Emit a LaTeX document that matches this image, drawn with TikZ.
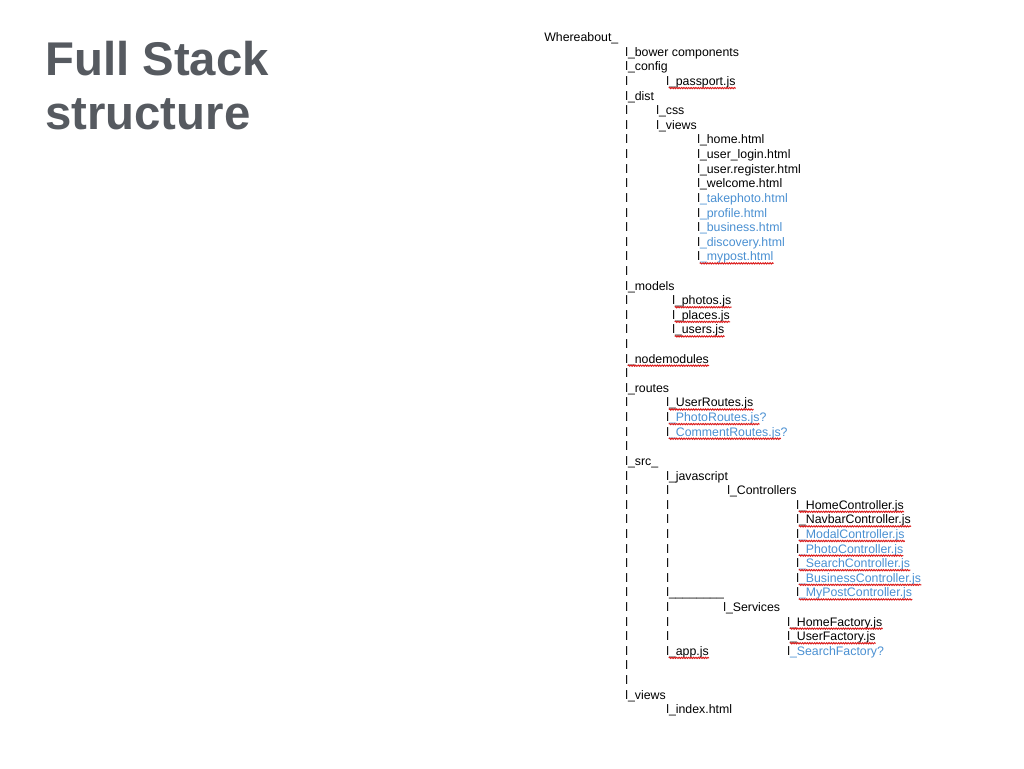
\documentclass[tikz,border=0pt]{standalone}
\usepackage{fontspec}
\setmainfont{Liberation Sans}
\usetikzlibrary{decorations.pathmorphing}
\definecolor{titlegray}{RGB}{86,90,96}
\definecolor{fileblue}{RGB}{74,144,210}
\definecolor{spellred}{RGB}{220,30,30}
\newcommand\rowy[1]{41.7+14.61*#1}
\newcommand\squig[1]{\draw[spell] ([xshift=2.1pt,yshift=-1.9pt]#1.base west) -- ([yshift=-1.9pt]#1.base east);}
\newcommand\squigq[1]{\draw[spell] ([xshift=2.1pt,yshift=-1.9pt]#1.base west) -- ([xshift=-5.2pt,yshift=-1.9pt]#1.base east);}
\newcommand\bl[1]{{\color{fileblue}#1}}
\begin{document}
\begin{tikzpicture}[x=0.75pt,y=-0.75pt,
  entry/.style={anchor=base west, inner sep=0pt, font=\fontsize{9.25}{11}\selectfont, text=black},
  titletext/.style={anchor=base west, inner sep=0pt, font=\fontsize{35.5}{40}\selectfont\bfseries, text=titlegray},
  spell/.style={draw=spellred, line width=0.75pt, decorate, decoration={snake, amplitude=0.45pt, segment length=1.8pt}}]
\useasboundingbox[fill=white] (0,0) rectangle (1024,768);

% title
\node[titletext] (t1) at (45,75) {Full Stack};
\node[titletext] (t2) at (45,129) {structure};

% vertical bars
\foreach \r in {3,5,6,...,16,18,19,20,21,23,25,26,27,28,30,31,...,44}
  \node[entry] (ba\r) at (625,{\rowy{\r}}) {l};
\foreach \r in {31,32,...,37,39,40,41}
  \node[entry] (bb\r) at (666,{\rowy{\r}}) {l};

% entries
\node[entry] (root) at (544,{\rowy{0}}) {Whereabout\_};
\node[entry] (bower) at (625,{\rowy{1}}) {l\_bower components};
\node[entry] (config) at (625,{\rowy{2}}) {l\_config};
\node[entry] (passport) at (666,{\rowy{3}}) {l\_passport.js};
\node[entry] (dist) at (625,{\rowy{4}}) {l\_dist};
\node[entry] (css) at (656,{\rowy{5}}) {l\_css};
\node[entry] (views1) at (656,{\rowy{6}}) {l\_views};
\node[entry] (home) at (697,{\rowy{7}}) {l\_home.html};
\node[entry] (login) at (697,{\rowy{8}}) {l\_user\_login.html};
\node[entry] (register) at (697,{\rowy{9}}) {l\_user.register.html};
\node[entry] (welcome) at (697,{\rowy{10}}) {l\_welcome.html};
\node[entry] (takephoto) at (697,{\rowy{11}}) {l\bl{\_takephoto.html}};
\node[entry] (profile) at (697,{\rowy{12}}) {l\bl{\_profile.html}};
\node[entry] (business) at (697,{\rowy{13}}) {l\bl{\_business.html}};
\node[entry] (discovery) at (697,{\rowy{14}}) {l\bl{\_discovery.html}};
\node[entry] (mypost) at (697,{\rowy{15}}) {l\bl{\_mypost.html}};
\node[entry] (models) at (625,{\rowy{17}}) {l\_models};
\node[entry] (photos) at (672,{\rowy{18}}) {l\_photos.js};
\node[entry] (places) at (672,{\rowy{19}}) {l\_places.js};
\node[entry] (users) at (672,{\rowy{20}}) {l\_users.js};
\node[entry] (nodemodules) at (625,{\rowy{22}}) {l\_nodemodules};
\node[entry] (routes) at (625,{\rowy{24}}) {l\_routes};
\node[entry] (userroutes) at (666,{\rowy{25}}) {l\_UserRoutes.js};
\node[entry] (photoroutes) at (666,{\rowy{26}}) {l\bl{\_PhotoRoutes.js?}};
\node[entry] (commentroutes) at (666,{\rowy{27}}) {l\bl{\_CommentRoutes.js?}};
\node[entry] (src) at (625,{\rowy{29}}) {l\_src\_};
\node[entry] (javascript) at (666,{\rowy{30}}) {l\_javascript};
\node[entry] (controllers) at (727,{\rowy{31}}) {l\_Controllers};
\node[entry] (homectrl) at (796,{\rowy{32}}) {l\_HomeController.js};
\node[entry] (navbarctrl) at (796,{\rowy{33}}) {l\_NavbarController.js};
\node[entry] (modalctrl) at (796,{\rowy{34}}) {l\bl{\_ModalController.js}};
\node[entry] (photoctrl) at (796,{\rowy{35}}) {l\bl{\_PhotoController.js}};
\node[entry] (searchctrl) at (796,{\rowy{36}}) {l\bl{\_SearchController.js}};
\node[entry] (businessctrl) at (796,{\rowy{37}}) {l\bl{\_BusinessController.js}};
\node[entry] (mypostctrl) at (796,{\rowy{38}}) {l\bl{\_MyPostController.js}};
\node[entry] (endjs) at (666,{\rowy{38}}) {l\_\_\_\_\_\_\_\_};
\node[entry] (services) at (723,{\rowy{39}}) {l\_Services};
\node[entry] (homefactory) at (787,{\rowy{40}}) {l\_HomeFactory.js};
\node[entry] (userfactory) at (787,{\rowy{41}}) {l\_UserFactory.js};
\node[entry] (app) at (666,{\rowy{42}}) {l\_app.js};
\node[entry] (searchfactory) at (787,{\rowy{42}}) {l\bl{\_SearchFactory?}};
\node[entry] (views2) at (625,{\rowy{45}}) {l\_views};
\node[entry] (index) at (666,{\rowy{46}}) {l\_index.html};

% spell-check underlines
\squig{passport}
\squig{mypost}
\squig{photos}
\squig{places}
\squig{users}
\squig{nodemodules}
\squig{userroutes}
\squigq{photoroutes}
\squigq{commentroutes}
\squig{homectrl}
\squig{navbarctrl}
\squig{modalctrl}
\squig{photoctrl}
\squig{searchctrl}
\squig{businessctrl}
\squig{mypostctrl}
\squig{homefactory}
\squig{userfactory}
\squig{app}
\end{tikzpicture}
\end{document}
